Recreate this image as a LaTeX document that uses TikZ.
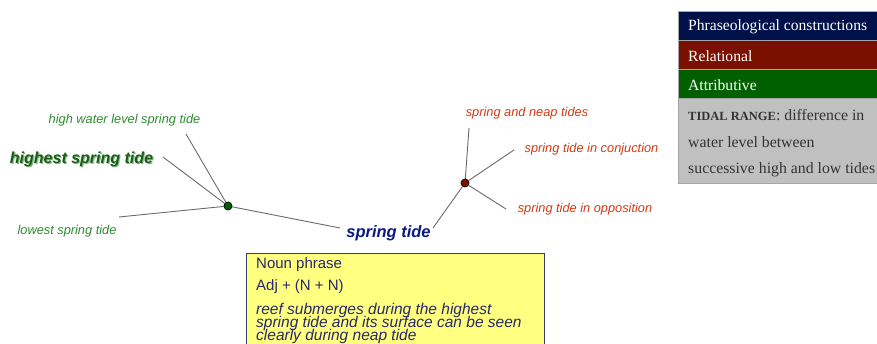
\documentclass[tikz,border=0pt]{standalone}
\usepackage{fontspec}
\setmainfont{Liberation Serif}
\setsansfont{Liberation Sans}
\definecolor{lgreen}{HTML}{2E8B2E}
\definecolor{dgreen}{HTML}{1A5C1A}
\definecolor{lred}{HTML}{D03A14}
\definecolor{navyt}{HTML}{0A1A80}
\definecolor{edgec}{HTML}{6A6A6A}
\definecolor{boxy}{HTML}{FFFF80}
\definecolor{boxb}{HTML}{3A3A6A}
\definecolor{boxt}{HTML}{28286A}
\definecolor{legnavy}{HTML}{001048}
\definecolor{legred}{HTML}{7A1000}
\definecolor{leggreen}{HTML}{006000}
\definecolor{leggray}{HTML}{C0C0C0}
\definecolor{legtext}{HTML}{333333}
\tikzset{
  lbl/.style={inner sep=0pt, font=\sffamily\itshape\fontsize{12.8}{14}\selectfont},
  dot/.style={circle, draw=black, line width=0.5pt, minimum size=8pt, inner sep=0pt},
  edge/.style={draw=edgec, line width=0.9pt},
  legrow/.style={minimum width=199pt, minimum height=29pt, anchor=north west, inner sep=0pt, draw=gray!70, line width=0.8pt},
  legtxt/.style={anchor=west, inner sep=0pt, text=white, font=\fontsize{15.6}{18}\selectfont},
  graytxt/.style={anchor=west, inner sep=0pt, text=legtext, font=\fontsize{15.8}{18}\selectfont},
  boxtxt/.style={anchor=west, inner sep=0pt, text=boxt, font=\sffamily\fontsize{15}{18}\selectfont},
  extxt/.style={anchor=base west, inner sep=0pt, text=boxt, font=\sffamily\itshape\fontsize{15.5}{18}\selectfont}
}
\begin{document}
\begin{tikzpicture}[x=1pt,y=-1pt]
\useasboundingbox (0,0) rectangle (877,344);
% dots
\node[dot, fill=leggreen] (gdot) at (228,206) {};
\node[dot, fill=legred] (rdot) at (465,183) {};
% labels
\node[lbl, text=lgreen] (hwl) at (124.5,120.5) {high water level spring tide};
\node[inner sep=0pt, text=lgreen!60, font=\sffamily\bfseries\itshape\fontsize{16}{18}\selectfont] at (82.6,160) {highest spring tide};
\node[inner sep=0pt, text=dgreen, font=\sffamily\bfseries\itshape\fontsize{16}{18}\selectfont] (hst) at (81.5,159) {highest spring tide};
\node[lbl, text=lgreen] (lst) at (67,231.5) {lowest spring tide};
\node[inner sep=0pt, text=navyt, font=\sffamily\bfseries\itshape\fontsize{16.5}{18}\selectfont] (st) at (388.5,233.5) {spring tide};
\node[lbl, text=lred] (snt) at (527,113.5) {spring and neap tides};
\node[lbl, text=lred] (stc) at (591.5,149.5) {spring tide in conjuction};
\node[lbl, text=lred] (sto) at (585,209.5) {spring tide in opposition};
% free ends of connectors
\coordinate (hwlE) at (186,134);
\coordinate (hstE) at (163,157);
\coordinate (lstE) at (119,217);
\coordinate (stW) at (340,228);
\coordinate (stE) at (433,228);
\coordinate (sntE) at (469,128);
\coordinate (stcE) at (514,150);
\coordinate (stoE) at (506,209);
\draw[edge] (gdot) -- (hwlE);
\draw[edge] (gdot) -- (hstE);
\draw[edge] (gdot) -- (lstE);
\draw[edge] (gdot) -- (stW);
\draw[edge] (rdot) -- (stE);
\draw[edge] (rdot) -- (sntE);
\draw[edge] (rdot) -- (stcE);
\draw[edge] (rdot) -- (stoE);
% redraw dots above lines
\node[dot, fill=leggreen] at (228,206) {};
\node[dot, fill=legred] at (465,183) {};
% yellow box
\node[draw=boxb, fill=boxy, line width=0.9pt, minimum width=298pt, minimum height=100pt, anchor=north west, inner sep=0pt] (ybox) at (246,253) {};
\node[boxtxt] (np) at (256,265) {Noun phrase};
\node[boxtxt] (adj) at (256,286.5) {Adj + (N + N)};
\node[extxt] (ex1) at (256,314) {reef submerges during the highest};
\node[extxt] (ex2) at (256,327) {spring tide and its surface can be seen};
\node[extxt] (ex3) at (256,340) {clearly during neap tide};
% legend
\node[legrow, fill=legnavy] (l1) at (678,11) {};
\node[legrow, fill=legred] (l2) at (678,40) {};
\node[legrow, fill=leggreen] (l3) at (678,69) {};
\node[legrow, fill=leggray, minimum height=85pt] (l4) at (678,98) {};
\node[legtxt] at (688,27) {Phraseological constructions};
\node[legtxt] at (688,56) {Relational};
\node[legtxt] at (688,85) {Attributive};
\node[graytxt] at (688,115) {{\bfseries\fontsize{12.5}{14}\selectfont TIDAL RANGE}: difference in};
\node[graytxt] at (688,142) {water level between};
\node[graytxt] at (688,170) {successive high and low tides};
\end{tikzpicture}
\end{document}
